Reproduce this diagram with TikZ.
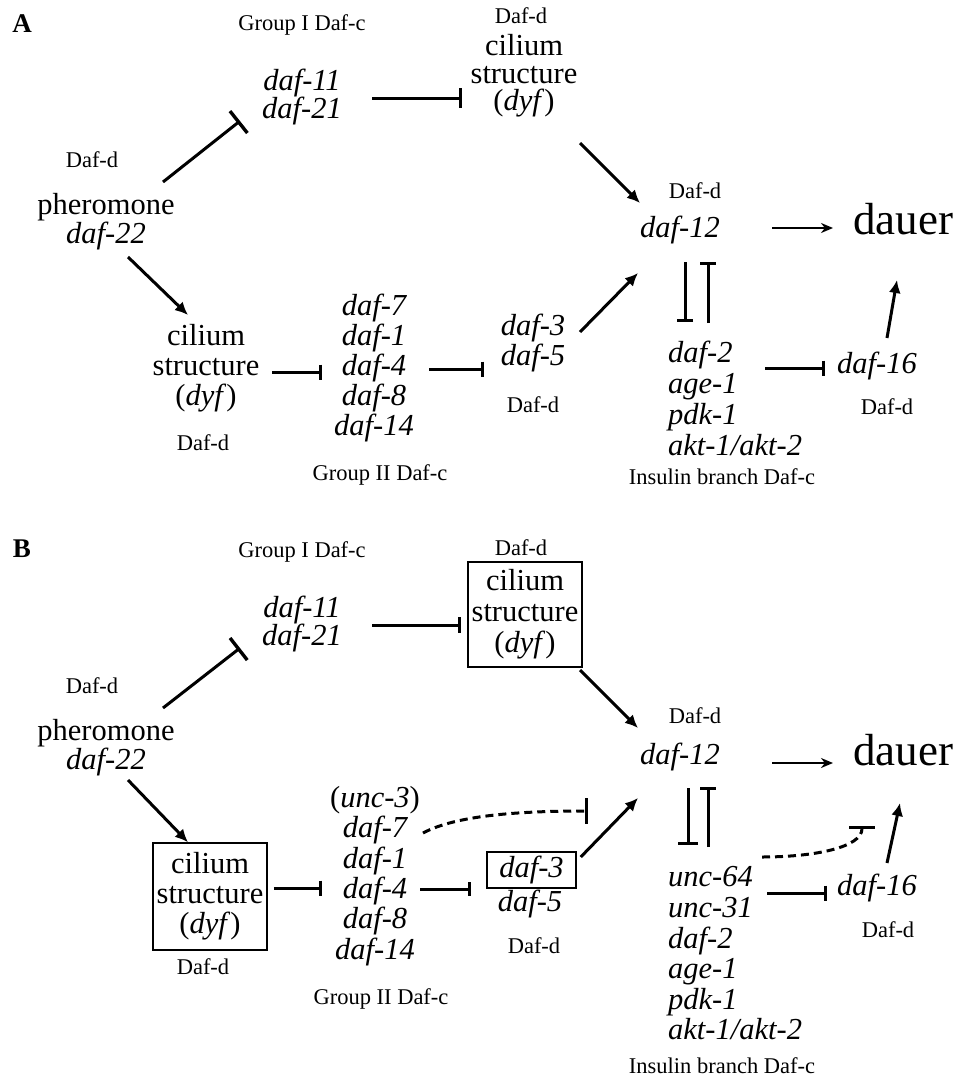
\documentclass[tikz,border=0pt]{standalone}
\usepackage{fontspec}
\setmainfont{Liberation Serif}
\usetikzlibrary{arrows.meta,calc}
\begin{document}
\begin{tikzpicture}[x=1pt,y=-1pt,
  panel/.style={font=\fontsize{27}{28}\selectfont\bfseries, inner sep=0pt},
  lab/.style={font=\fontsize{22.5}{24}\selectfont, inner sep=0pt},
  txt/.style={font=\fontsize{30.5}{30}\selectfont, align=center, inner sep=0pt},
  gene/.style={font=\fontsize{30.5}{30}\selectfont\itshape, align=center, inner sep=0pt},
  big/.style={font=\fontsize{45}{46}\selectfont, inner sep=0pt},
  boxed/.style={draw, line width=1.5pt, minimum width=#1},
  act/.style={line width=3pt, -{Latex[length=13pt,width=12pt]}},
  thinact/.style={line width=2.4pt, -{Stealth[length=12pt,width=10pt]}},
  inh/.style={line width=3pt, -{Bar[width=#1,line width=3.4pt]}},
  inh/.default=16pt,
  dsh/.style={dash pattern=on 8pt off 5pt, line width=2.4pt},
]
\useasboundingbox (0,0) rectangle (960,1079);

% ---------------- Panel A ----------------
\node[panel] (labA) at (22,24) {A};
\node[lab] (g1A) at (302,25) {Group I Daf-c};
\node[gene, font=\fontsize{30.5}{27}\selectfont\itshape] (d1121A) at (302,97) {daf-11\\daf-21};
\node[lab] (ddTopA) at (521,16) {Daf-d};
\node[txt, font=\fontsize{30.5}{27.5}\selectfont] (cilTopA) at (524,76) {cilium\\structure\\(\textit{dyf})};
\node[lab] (ddLA) at (92,160) {Daf-d};
\node[txt, font=\fontsize{30.5}{27.5}\selectfont] (pherA) at (106,222) {pheromone\\\textit{daf-22}};
\node[txt] (cilBotA) at (206,368) {cilium\\structure\\(\textit{dyf})};
\node[lab] (ddBotA) at (203,443) {Daf-d};
\node[gene] (gl2A) at (374,368) {daf-7\\daf-1\\daf-4\\daf-8\\daf-14};
\node[lab] (g2A) at (380,475) {Group II Daf-c};
\node[gene] (d35A) at (533,343) {daf-3\\daf-5};
\node[lab] (dd35A) at (533,405) {Daf-d};
\node[gene] (d12A) at (680,230) {daf-12};
\node[lab] (dd12A) at (695,191) {Daf-d};
\node[big] (dauerA) at (903,219) {dauer};
\node[gene, align=left, anchor=west, font=\fontsize{30.5}{31}\selectfont\itshape] (insA) at (668,398) {daf-2\\age-1\\pdk-1\\akt-1/akt-2};
\node[lab] (inslA) at (722,477) {Insulin branch Daf-c};
\node[gene] (d16A) at (877,366) {daf-16};
\node[lab] (dd16A) at (887,407) {Daf-d};

\draw[inh=28pt] ($(pherA)+(57,-40)$) -- ($(d1121A)+(-62,24)$);
\draw[inh=20pt] ($(d1121A)+(70,1)$) -- ($(cilTopA)+(-62,22)$);
\draw[act] ($(cilTopA)+(56,67)$) -- ($(d12A)+(-40,-27)$);
\draw[act] ($(pherA)+(22,35)$) -- ($(cilBotA)+(-18,-53)$);
\draw[inh=15pt] ($(cilBotA)+(66,4)$) -- ($(gl2A)+(-52,4)$);
\draw[inh=15pt] ($(gl2A)+(55,1)$) -- ($(d35A)+(-49,26)$);
\draw[act] ($(d35A)+(47,-11)$) -- ($(d12A)+(-42,43)$);
\draw[thinact] ($(d12A)+(92,-2)$) -- ($(dauerA)+(-70,9)$);
\draw[inh=16pt] ($(d12A)+(5,32)$) -- ($(insA.west)+(17,-76)$);
\draw[inh=16pt] ($(insA.west)+(40,-75)$) -- ($(d12A)+(28,32)$);
\draw[inh=15pt] ($(insA.west)+(97,-30)$) -- ($(d16A)+(-52,2)$);
\draw[act] ($(d16A)+(10,-28)$) -- ($(dauerA)+(-6,61)$);

% ---------------- Panel B ----------------
\node[panel] (labB) at (22,549) {B};
\node[lab] (g1B) at (302,552) {Group I Daf-c};
\node[gene, font=\fontsize{30.5}{27}\selectfont\itshape] (d1121B) at (302,624) {daf-11\\daf-21};
\node[lab] (ddTopB) at (521,548) {Daf-d};
\node[txt, font=\fontsize{30.5}{31}\selectfont, boxed=114pt, minimum height=105pt] (cilTopB) at (525,614.5) {cilium\\structure\\(\textit{dyf})};
\node[lab] (ddLB) at (92,686) {Daf-d};
\node[txt, font=\fontsize{30.5}{27.5}\selectfont] (pherB) at (106,748) {pheromone\\\textit{daf-22}};
\node[txt, boxed=114pt, minimum height=107pt] (cilBotB) at (210,896.5) {cilium\\structure\\(\textit{dyf})};
\node[lab] (ddBotB) at (203,967) {Daf-d};
\node[gene, font=\fontsize{30.5}{30.4}\selectfont\itshape] (gl2B) at (375,876) {\textup{(}unc-3\textup{)}\\daf-7\\daf-1\\daf-4\\daf-8\\daf-14};
\node[lab] (g2B) at (381,999) {Group II Daf-c};
\node[gene, boxed=89pt, minimum height=36pt] (d3B) at (531.5,870) {daf-3};
\node[gene] (d5B) at (530,904) {daf-5};
\node[lab] (dd35B) at (534,946) {Daf-d};
\node[gene] (d12B) at (680,757) {daf-12};
\node[lab] (dd12B) at (695,716) {Daf-d};
\node[big] (dauerB) at (903,750) {dauer};
\node[gene, align=left, anchor=west, font=\fontsize{30.5}{30.6}\selectfont\itshape] (insB) at (668,953.5) {unc-64\\unc-31\\daf-2\\age-1\\pdk-1\\akt-1/akt-2};
\node[lab] (inslB) at (722,1066) {Insulin branch Daf-c};
\node[gene] (d16B) at (877,888) {daf-16};
\node[lab] (dd16B) at (888,930) {Daf-d};

\draw[inh=28pt] ($(pherB)+(57,-40)$) -- ($(d1121B)+(-62,24)$);
\draw[inh=16pt] ($(d1121B)+(70,1)$) -- ($(cilTopB.west)+(-6,10.5)$);
\draw[act] ($(cilTopB)+(55,55.5)$) -- ($(d12B)+(-42,-29)$);
\draw[act] ($(pherB)+(22,32)$) -- ($(cilBotB.north)+(-22,0)$);
\draw[inh=15pt] ($(cilBotB.east)+(6,-8.5)$) -- ($(gl2B)+(-53,12)$);
\draw[inh=14pt] ($(gl2B)+(45,13)$) -- ($(d3B.west)+(-15,19)$);
\draw[act] ($(d3B.east)+(4,-13)$) -- ($(d12B)+(-42,41)$);
\draw[thinact] ($(d12B)+(92,6)$) -- ($(dauerB)+(-70,13)$);
\draw[inh=20pt] ($(d12B)+(8,31)$) -- ($(insB.west)+(20,-108.5)$);
\draw[inh=16pt] ($(insB.west)+(40,-106.5)$) -- ($(d12B)+(28,30)$);
\draw[inh=15pt] ($(insB.west)+(99,-60.5)$) -- ($(d16B)+(-50,5)$);
\draw[act] ($(d16B)+(10,-25)$) -- ($(dauerB)+(-3,53)$);
\draw[dsh, inh=26pt] ($(gl2B)+(48,-43)$) .. controls +(30,-16) and +(-80,0) .. ($(d12B)+(-92,54)$);
\draw[dsh, inh=26pt] ($(insB.west)+(94,-96.5)$) .. controls +(50,0) and +(0,22) .. ($(d16B)+(-15,-62)$);
\end{tikzpicture}
\end{document}
